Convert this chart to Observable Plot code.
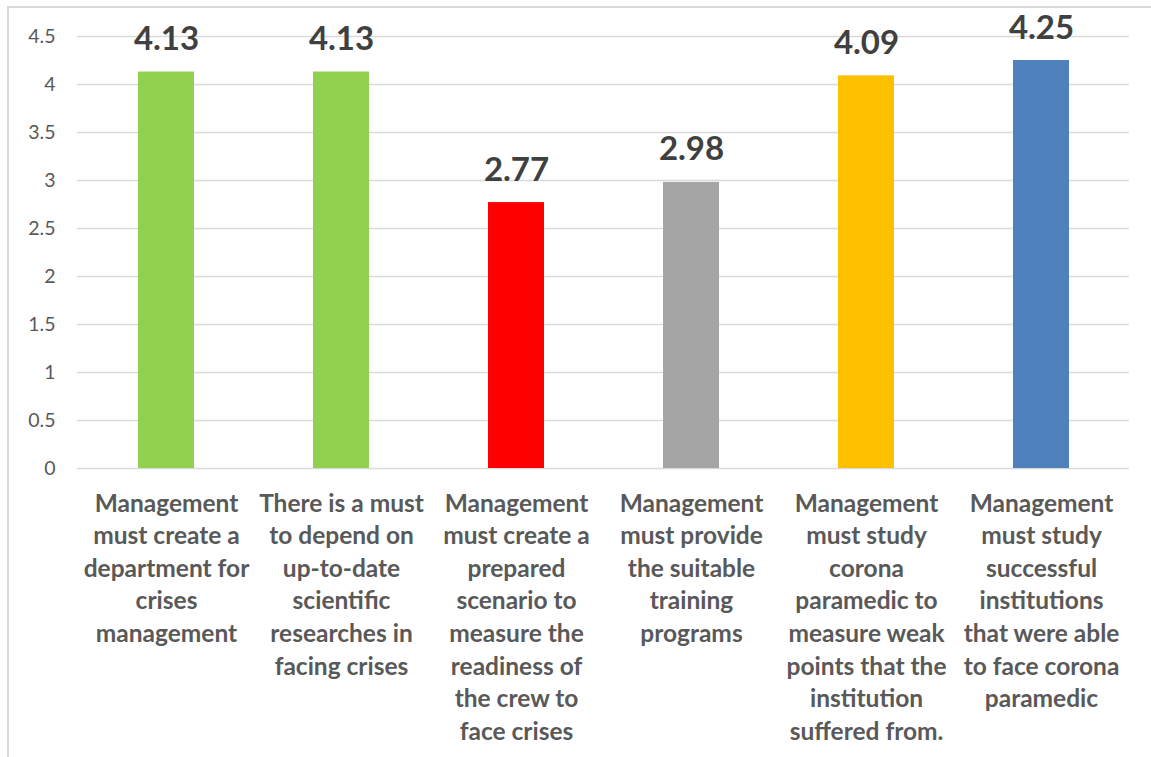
<!DOCTYPE html>
<html>
<head>
<meta charset="utf-8">
<script src="https://cdn.jsdelivr.net/npm/d3@7"></script>
<script src="https://cdn.jsdelivr.net/npm/@observablehq/plot@0.6"></script>
<style>
  html, body { margin: 0; padding: 0; background: #fff; }
  #wrap { position: relative; width: 1151px; height: 757px; overflow: hidden; }
  #frame { position: absolute; left: 7px; top: 6px; width: 1160px; height: 770px; border: 2px solid #d9d9d9; box-sizing: border-box; pointer-events: none; }
  #chart { position: absolute; left: 0; top: 0; }
</style>
</head>
<body>
<div id="wrap"><div id="chart"></div><div id="frame"></div></div>
<script>
const categories = [
  "Management\nmust create a\ndepartment for\ncrises\nmanagement",
  "There is a must\nto depend on\nup-to-date\nscientific\nresearches in\nfacing crises",
  "Management\nmust create a\nprepared\nscenario to\nmeasure the\nreadiness of\nthe crew to\nface crises",
  "Management\nmust provide\nthe suitable\ntraining\nprograms",
  "Management\nmust study\ncorona\nparamedic to\nmeasure weak\npoints that the\ninstitution\nsuffered from.",
  "Management\nmust study\nsuccessful\ninstitutions\nthat were able\nto face corona\nparamedic"
];
const values = [4.13, 4.13, 2.77, 2.98, 4.09, 4.25];
const barColors = ["#92D050", "#92D050", "#FF0000", "#A5A5A5", "#FFC000", "#4F81BD"];
const yTicks = [0, 0.5, 1, 1.5, 2, 2.5, 3, 3.5, 4, 4.5];

const data = categories.map((c, i) => ({cat: c, value: values[i], color: barColors[i]}));

const chart = Plot.plot({
  width: 1151,
  height: 757,
  marginLeft: 77,
  marginRight: 22,
  marginTop: 36,
  marginBottom: 289,
  style: {fontFamily: "Lato, 'Open Sans', sans-serif", background: "transparent"},
  x: {domain: categories, paddingInner: 0.68, paddingOuter: 0.34, label: null},
  y: {domain: [0, 4.5], label: null},
  marks: [
    Plot.gridY(yTicks, {stroke: "#d9d9d9", strokeOpacity: 1, strokeWidth: 1.5}),
    Plot.barY(data, {x: "cat", y: "value", fill: "color"}),
    Plot.text(data, {x: "cat", y: "value", text: d => d.value.toFixed(2), lineAnchor: "bottom", dy: -22, fontSize: 33, fontWeight: "bold", fill: "#404040"}),
    Plot.axisY({ticks: yTicks, tickSize: 0, tickPadding: 22, fontSize: 19.5, fill: "#595959", tickFormat: d => String(d), label: null}),
    Plot.axisX({tickSize: 0, tickPadding: 20, fontSize: 24.5, fontWeight: "bold", fill: "#595959", lineHeight: 1.33, lineAnchor: "top", label: null, textOverflow: null})
  ]
});
document.getElementById("chart").appendChild(chart);
</script>
</body>
</html>
